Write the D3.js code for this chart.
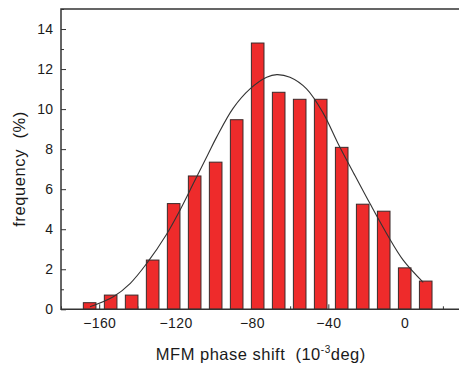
<!DOCTYPE html>
<html>
<head>
<meta charset="utf-8">
<script src="https://cdn.jsdelivr.net/npm/d3@7"></script>
<style>
  html, body { margin: 0; padding: 0; background: #fff; }
  svg { display: block; font-family: Arial, "Liberation Sans", sans-serif; }
  text { white-space: pre; }
</style>
</head>
<body>
<svg id="chart" width="459" height="367"></svg>
<script>
// ---- data ----
const binCenters = [-165, -154, -143, -132, -121, -110, -99, -88, -77, -66, -55, -44, -33, -22, -11, 0, 11];
const frequencies = [0.33, 0.71, 0.71, 2.46, 5.28, 6.66, 7.35, 9.47, 13.3, 10.84, 10.49, 10.49, 8.09, 5.25, 4.90, 2.07, 1.41];
const fitX = [-164.8, -152.6, -143.7, -135.1, -124.7, -117.7, -110.7, -103, -98.5, -89.8, -81, -72.3, -67, -60.1, -51.4, -42.7, -35, -27, -18.2, -9.5, -0.8, 9.7];
const fitY = [0.13, 0.63, 1.30, 2.29, 3.75, 4.95, 6.28, 7.75, 8.60, 10.05, 11.01, 11.59, 11.72, 11.59, 11.01, 9.80, 8.30, 6.85, 5.28, 3.79, 2.46, 1.35];
const xMajorTicks = [-160, -120, -80, -40, 0];
const xMinorTicks = [-180, -140, -100, -60, -20, 20];
const yMajorTicks = [0, 2, 4, 6, 8, 10, 12, 14];
const yMinorTicks = [1, 3, 5, 7, 9, 11, 13, 15];

// ---- layout ----
const svg = d3.select("#chart");
const mLeft = 61, mRight = 462, mTop = 9, mBottom = 309.3;
const barWidthUnits = 6.6;

const x = d3.scaleLinear().domain([-180, 30]).range([mLeft, mRight]);
const y = d3.scaleLinear().domain([0, 15]).range([mBottom, mTop]);

const axisColor = "#333";
const textColor = "#1a1a1a";
const fontFam = "Arial, 'Liberation Sans', sans-serif";

// minor ticks
svg.append("g")
  .attr("transform", `translate(0,${mBottom})`)
  .call(d3.axisBottom(x).tickValues(xMinorTicks).tickSize(-3).tickFormat(""))
  .call(g => g.select(".domain").remove())
  .call(g => g.selectAll("line").attr("stroke", axisColor));
svg.append("g")
  .attr("transform", `translate(${mLeft},0)`)
  .call(d3.axisLeft(y).tickValues(yMinorTicks).tickSize(-3).tickFormat(""))
  .call(g => g.select(".domain").remove())
  .call(g => g.selectAll("line").attr("stroke", axisColor));

// major ticks + labels
const xAxis = svg.append("g")
  .attr("transform", `translate(0,${mBottom})`)
  .call(d3.axisBottom(x).tickValues(xMajorTicks).tickSize(-5).tickSizeOuter(0).tickPadding(8.4).tickFormat(d3.format("d")));
xAxis.select(".domain").remove();
xAxis.selectAll("line").attr("stroke", axisColor);
xAxis.selectAll("text").attr("font-size", 14).attr("letter-spacing", 0.4).attr("fill", textColor).attr("font-family", fontFam);

const yAxis = svg.append("g")
  .attr("transform", `translate(${mLeft},0)`)
  .call(d3.axisLeft(y).tickValues(yMajorTicks).tickSize(-5).tickSizeOuter(0).tickPadding(7.7).tickFormat(d3.format("d")));
yAxis.select(".domain").remove();
yAxis.selectAll("line").attr("stroke", axisColor);
yAxis.selectAll("text").attr("font-size", 14).attr("letter-spacing", 0.3).attr("fill", textColor).attr("font-family", fontFam);

// bars
svg.append("g").selectAll("rect")
  .data(binCenters.map((c, i) => ({c, v: frequencies[i]})))
  .join("rect")
  .attr("x", d => x(d.c - barWidthUnits / 2))
  .attr("width", d => x(d.c + barWidthUnits / 2) - x(d.c - barWidthUnits / 2))
  .attr("y", d => y(d.v))
  .attr("height", d => y(0) - y(d.v))
  .attr("fill", "#ee2b2b")
  .attr("stroke", "#3a2a2a")
  .attr("stroke-width", 1);

// frame
svg.append("path")
  .attr("d", `M${mLeft},${mTop}H${mRight}V${mBottom}H${mLeft}Z`)
  .attr("fill", "none")
  .attr("stroke", axisColor)
  .attr("stroke-width", 1.5);

// fitted curve
const line = d3.line()
  .x((d, i) => x(fitX[i]))
  .y((d, i) => y(fitY[i]))
  .curve(d3.curveCatmullRom.alpha(0.5));
svg.append("path")
  .datum(fitX)
  .attr("d", line)
  .attr("fill", "none")
  .attr("stroke", "#333")
  .attr("stroke-width", 1.1);

// axis titles
const xt = svg.append("text")
  .attr("x", 260.8)
  .attr("y", 360)
  .attr("text-anchor", "middle")
  .attr("font-size", 16.5)
  .attr("letter-spacing", 0.5)
  .attr("fill", textColor);
xt.append("tspan").text("MFM phase shift  (10");
xt.append("tspan").attr("font-size", 10).attr("dy", -7).text("-3");
xt.append("tspan").attr("dy", 7).text("deg)");

svg.append("text")
  .attr("transform", `translate(25,169) rotate(-90)`)
  .attr("text-anchor", "middle")
  .attr("font-size", 16.5)
  .attr("letter-spacing", 0.6)
  .attr("fill", textColor)
  .text("frequency  (%)");
</script>
</body>
</html>
